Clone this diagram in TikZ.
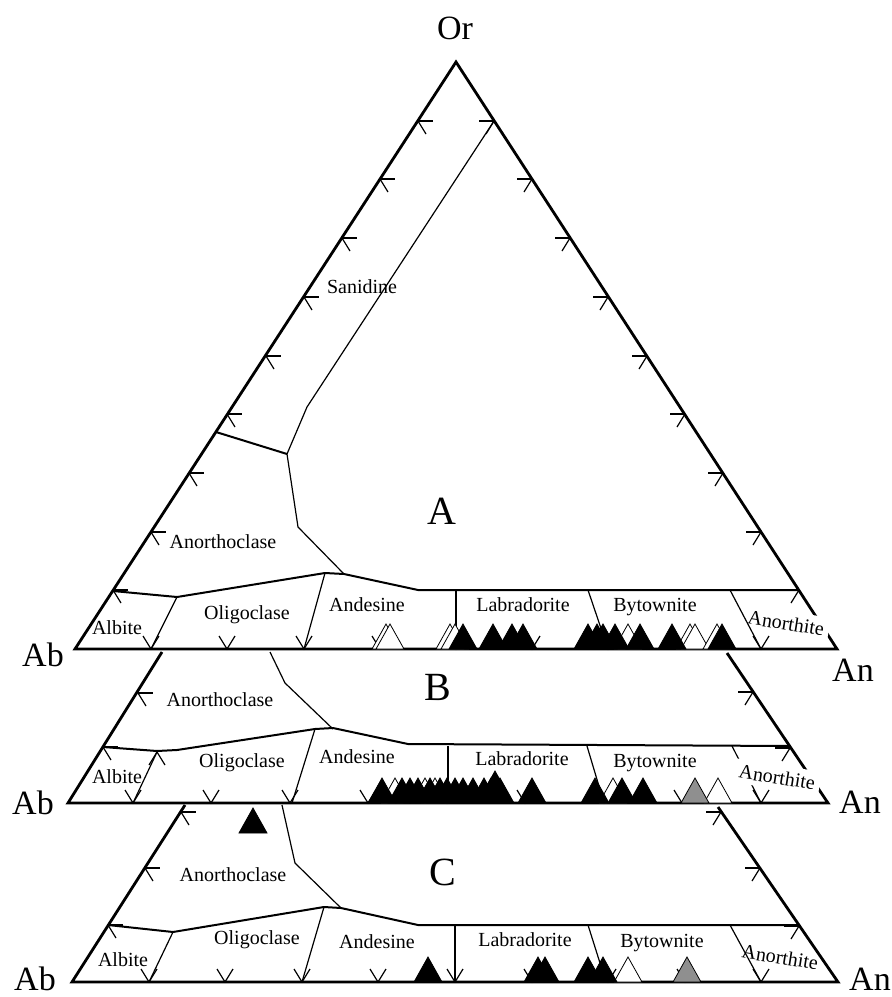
\documentclass[tikz,border=0pt]{standalone}
\usepackage{fontspec}
\setmainfont{Liberation Serif}
\usepackage{tikz}
\definecolor{midgray}{gray}{0.56}
\newcommand{\tickl}[2] % x, y of a tick on the Ab-Or side
{
	\draw (#1,#2) -- (#1+15,#2);
	\draw (#1,#2) -- (#1+8,#2+13);
}
\newcommand{\tickr}[2] % x, y of a tick on the Or-An side
{
	\draw (#1,#2) -- (#1-15,#2);
	\draw (#1,#2) -- (#1-8,#2+13);
}
\newcommand{\tickb}[2] % x, y of a tick on the Ab-An side
{
	\draw (#1-8,#2-13) -- (#1,#2) -- (#1+8,#2-13);
}
\newcommand{\tickup}[2] % x, y of an upward caret
{
	\draw (#1-8,#2+13) -- (#1,#2) -- (#1+8,#2+13);
}
\newcommand{\grain}[3] % x, base y, fill
{
	\filldraw[fill=#3, draw=black, line width=0.4pt] (#1-14,#2) -- (#1+14,#2) -- (#1,#2-25) -- cycle;
}

\begin{document}
\begin{tikzpicture}[x=0.5pt, y=-0.5pt, line width=0.6pt,
	frame/.style={line width=1.4pt},
	zone/.style={line width=1pt},
	mineral/.style={font=\fontsize{10}{12}\selectfont, inner sep=1pt},
	endmember/.style={font=\fontsize{17}{20}\selectfont, inner sep=0pt},
	panel/.style={font=\fontsize{20}{24}\selectfont, inner sep=0pt}]
	\useasboundingbox (0,0) rectangle (891,997);
	
	% panel A: whole triangle
	\draw[frame] (75,649) -- (456,62) -- (837,649) -- cycle;
	\node[mineral, fill=white, inner sep=2.5pt, rotate=-9] (anthA) at (786,623) {Anorthite};
	
	\tickl{113}{590};
	\tickl{151}{532};
	\tickl{189}{473};
	\tickl{227}{414};
	\tickl{266}{356};
	\tickl{304}{297};
	\tickl{342}{238};
	\tickl{380}{179};
	\tickl{418}{121};
	
	\tickr{799}{590};
	\tickr{761}{532};
	\tickr{723}{473};
	\tickr{685}{414};
	\tickr{647}{356};
	\tickr{608}{297};
	\tickr{570}{238};
	\tickr{532}{179};
	\tickr{494}{121};
	
	\tickb{151}{649};
	\tickb{227}{649};
	\tickb{304}{649};
	\tickb{380}{649};
	\tickb{456}{649};
	\tickb{532}{649};
	\tickb{608}{649};
	\tickb{685}{649};
	\tickb{761}{649};
	
	\draw (494,121) -- (307,407) -- (287,454) -- (298,527) -- (344,574);
	\draw[zone] (216,432) -- (287,454);
	\draw[zone] (113,591) -- (177,597) -- (325,573) -- (344,574) -- (418,590) -- (799,590);
	\draw (177,597) -- (151,649);
	\draw (325,573) -- (304,649);
	\draw (456,590) -- (456,649);
	\draw (588,590) -- (608,649);
	\draw (730,590) -- (761,649);
	
	\node[endmember] (orA) at (455,28) {Or};
	\node[endmember] (abA) at (43,655) {Ab};
	\node[endmember] (anA) at (853,670) {An};
	\node[panel] (letA) at (442,511) {A};
	\node[mineral] (sanA) at (362,287) {Sanidine};
	\node[mineral] (anorthoclA) at (223,542) {Anorthoclase};
	\node[mineral] (albA) at (117,628) {Albite};
	\node[mineral] (oligA) at (247,615) {Oligoclase};
	\node[mineral] (andA) at (367,605) {Andesine};
	\node[mineral] (labA) at (523,605) {Labradorite};
	\node[mineral] (bytA) at (655,607) {Bytownite};
	
	\grain{386}{649}{white};
	\grain{390}{649}{white};
	\grain{450}{649}{white};
	\grain{455}{649}{white};
	\grain{628}{649}{white};
	\grain{690}{649}{white};
	\grain{695}{649}{white};
	\grain{717}{649}{white};
	\grain{463}{649}{black};
	\grain{493}{649}{black};
	\grain{512}{649}{black};
	\grain{523}{649}{black};
	\grain{588}{649}{black};
	\grain{597}{649}{black};
	\grain{603}{649}{black};
	\grain{615}{649}{black};
	\grain{640}{649}{black};
	\grain{672}{649}{black};
	\grain{722}{649}{black};
	
	% panel B: cut below panel A
	\draw[frame] (162,652) -- (68,803) -- (828,803) -- (727,653);
	\draw (732,746) -- (761,803);
	\node[mineral, fill=white, inner sep=2.5pt, rotate=-9] (anthB) at (777,777) {Anorthite};
	
	\tickl{138}{693};
	\tickl{103}{747};
	\tickr{753}{692};
	\tickr{790}{748};
	
	\tickb{133}{803};
	\tickb{211}{803};
	\tickb{290}{803};
	\tickb{368}{803};
	\tickb{447}{803};
	\tickb{525}{803};
	\tickb{604}{803};
	\tickb{682}{803};
	\tickb{761}{803};
	\tickup{157}{752};
	
	\draw (270,652) -- (285,683) -- (333,729);
	\draw[zone] (103,747) -- (157,751) -- (177,750) -- (315,729) -- (333,728) -- (408,744) -- (790,746);
	\draw (157,752) -- (133,803);
	\draw (315,729) -- (292,803);
	\draw (448,746) -- (448,803);
	\draw (587,746) -- (604,803);
	
	\node[endmember] (abB) at (33,803) {Ab};
	\node[endmember] (anB) at (860,802) {An};
	\node[panel] (letB) at (438,687) {B};
	\node[mineral] (anorthoclB) at (220,700) {Anorthoclase};
	\node[mineral] (albB) at (117,777) {Albite};
	\node[mineral] (oligB) at (242,763) {Oligoclase};
	\node[mineral] (andB) at (357,757) {Andesine};
	\node[mineral] (labB) at (522,759) {Labradorite};
	\node[mineral] (bytB) at (655,763) {Bytownite};
	
	\grain{395}{803}{white};
	\grain{425}{803}{white};
	\grain{435}{803}{white};
	\grain{613}{803}{white};
	\grain{718}{803}{white};
	\grain{695}{803}{midgray};
	\grain{382}{803}{black};
	\grain{402}{803}{black};
	\grain{410}{803}{black};
	\grain{418}{803}{black};
	\grain{430}{803}{black};
	\grain{440}{803}{black};
	\grain{447}{803}{black};
	\grain{455}{803}{black};
	\grain{463}{803}{black};
	\grain{473}{803}{black};
	\grain{484}{803}{black};
	\grain{491}{803}{black};
	\grain{500}{803}{black};
	\grain{495}{796}{black};
	\grain{532}{803}{black};
	\grain{595}{803}{black};
	\grain{622}{803}{black};
	\grain{643}{803}{black};
	
	% panel C: cut below panel B
	\draw[frame] (185,805) -- (72,982) -- (838,982) -- (718,807);
	
	\tickl{181}{812};
	\tickl{145}{868};
	\tickl{108}{925};
	\tickr{721}{812};
	\tickr{760}{868};
	\tickr{799}{926};
	
	\tickb{149}{982};
	\tickb{225}{982};
	\tickb{302}{982};
	\tickb{378}{982};
	\tickb{455}{982};
	\tickb{532}{982};
	\tickb{608}{982};
	\tickb{685}{982};
	\tickb{761}{982};
	
	\draw (282,805) -- (295,863) -- (341,908);
	\draw[zone] (108,925) -- (173,932) -- (324,907) -- (341,908) -- (418,925) -- (799,925);
	\draw (173,932) -- (149,982);
	\draw (324,907) -- (302,982);
	\draw (455,925) -- (455,982);
	\draw (588,925) -- (606,982);
	\draw (730,925) -- (761,982);
	
	\node[endmember] (abC) at (35,979) {Ab};
	\node[endmember] (anC) at (870,979) {An};
	\node[panel] (letC) at (443,872) {C};
	\node[mineral] (anorthoclC) at (233,875) {Anorthoclase};
	\node[mineral] (albC) at (123,960) {Albite};
	\node[mineral] (oligC) at (257,940) {Oligoclase};
	\node[mineral] (andC) at (377,942) {Andesine};
	\node[mineral] (labC) at (525,940) {Labradorite};
	\node[mineral] (bytC) at (662,943) {Bytownite};
	\node[mineral, rotate=-9] (anthC) at (780,957) {Anorthite};
	
	\grain{628}{982}{white};
	\grain{687}{982}{midgray};
	\grain{253}{833}{black};
	\grain{428}{982}{black};
	\grain{538}{982}{black};
	\grain{545}{982}{black};
	\grain{588}{982}{black};
	\grain{603}{982}{black};
	
\end{tikzpicture}
\end{document}
